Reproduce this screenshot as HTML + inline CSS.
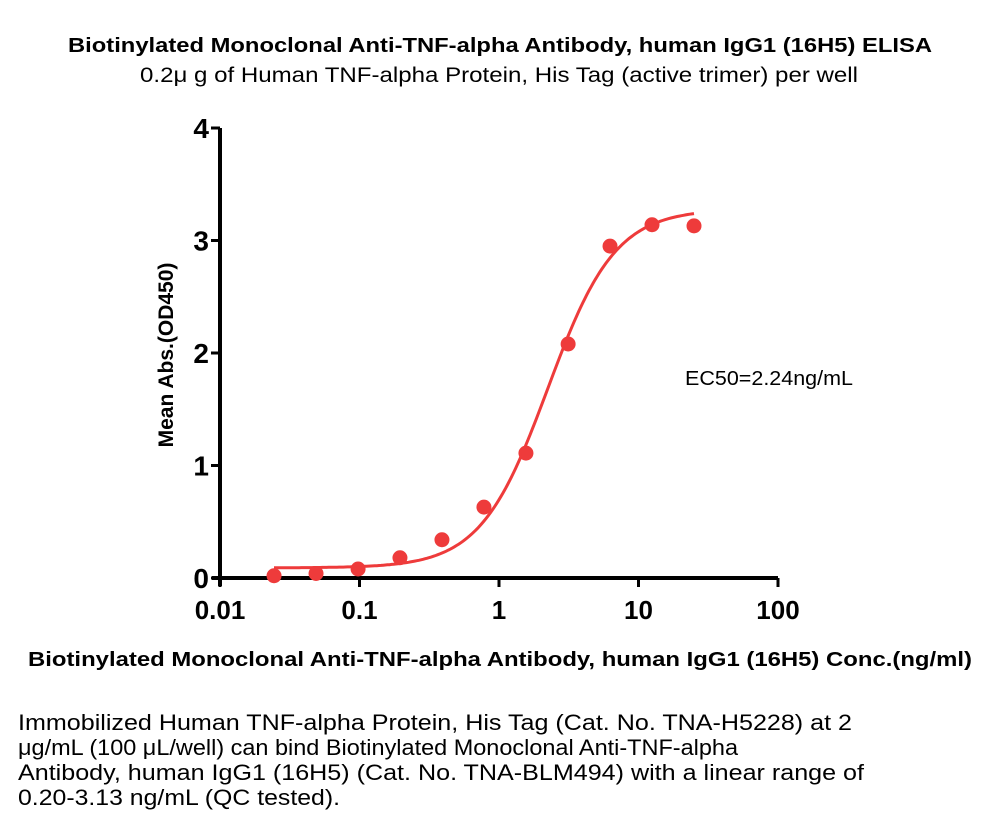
<!DOCTYPE html>
<html><head><meta charset="utf-8"><style>
body{margin:0;background:#fff;width:1000px;height:832px;overflow:hidden;font-family:"Liberation Sans",sans-serif}
svg{position:absolute;left:0;top:0}
</style></head><body>
<svg width="1000" height="832" font-family="Liberation Sans, sans-serif">
<text x="68" y="52" textLength="864" lengthAdjust="spacingAndGlyphs" font-size="20" font-weight="bold">Biotinylated Monoclonal Anti-TNF-alpha Antibody, human IgG1 (16H5)  ELISA</text>
<text x="140" y="82" textLength="718" lengthAdjust="spacingAndGlyphs" font-size="21">0.2μ g of Human TNF-alpha Protein, His Tag (active trimer) per well</text>
<g id="axes"></g>
<g id="marks"></g>
<text x="0" y="0" transform="translate(173,355) rotate(-90)" text-anchor="middle" font-size="21" font-weight="bold">Mean Abs.(OD450)</text>
<text x="28" y="666" textLength="944" lengthAdjust="spacingAndGlyphs" font-size="20" font-weight="bold">Biotinylated Monoclonal Anti-TNF-alpha Antibody, human IgG1 (16H5)  Conc.(ng/ml)</text>
<text x="685" y="385" textLength="168" lengthAdjust="spacingAndGlyphs" font-size="20">EC50=2.24ng/mL</text>
<g font-size="22">
<text x="18" y="730" textLength="834" lengthAdjust="spacingAndGlyphs">Immobilized Human TNF-alpha Protein, His Tag (Cat. No. TNA-H5228) at 2</text>
<text x="18" y="755" textLength="720" lengthAdjust="spacingAndGlyphs">μg/mL (100 μL/well) can bind Biotinylated Monoclonal Anti-TNF-alpha</text>
<text x="18" y="780" textLength="846" lengthAdjust="spacingAndGlyphs">Antibody, human IgG1 (16H5) (Cat. No. TNA-BLM494) with a linear range of</text>
<text x="18" y="805" textLength="322" lengthAdjust="spacingAndGlyphs">0.20-3.13 ng/mL (QC tested).</text>
</g>
</svg>
<script>
const concentrations=[0.0244,0.0488,0.0977,0.195,0.39,0.78,1.56,3.13,6.25,12.5,25];
const absorbances=[0.02,0.04,0.08,0.18,0.34,0.63,1.11,2.08,2.95,3.14,3.13];
const xTicks=[0.01,0.1,1,10,100];
const xTickLabels=["0.01","0.1","1","10","100"];
const yTicks=[0,1,2,3,4];
const fitBottom=0.09, fitTop=3.28, fitEC50=2.24, fitHill=1.8;
const NS="http://www.w3.org/2000/svg";
const X0=220,X1=778,Y0=578,Y1=128;
const xs=v=>X0+(Math.log10(v)+2)/4*(X1-X0);
const ys=v=>Y0-v/4*(Y0-Y1);
function mk(t,a,p){const e=document.createElementNS(NS,t);for(const k in a)e.setAttribute(k,a[k]);p.appendChild(e);return e;}
const ax=document.getElementById('axes'),mg=document.getElementById('marks');
const ya=mk('line',{x1:X0,y1:Y1,x2:X0,y2:Y0+8,stroke:'#000','stroke-width':4},ax);


const xa=mk('line',{x1:X0-8,y1:Y0,x2:X1,y2:Y0,stroke:'#000','stroke-width':4},ax);


yTicks.forEach(v=>{
  mk('line',{x1:X0-9,y1:ys(v),x2:X0,y2:ys(v),stroke:'#000','stroke-width':3},ax);
  const t=mk('text',{x:X0-11,y:ys(v)+10,'text-anchor':'end','font-size':28,'font-weight':'bold'},ax);
  t.textContent=v;
  
  
});
xTicks.forEach((v,i)=>{
  mk('line',{x1:xs(v),y1:Y0,x2:xs(v),y2:Y0+9,stroke:'#000','stroke-width':3},ax);
  const t=mk('text',{x:xs(v),y:Y0+41,'text-anchor':'middle','font-size':26,'font-weight':'bold'},ax);
  t.textContent=xTickLabels[i];
  
  
});
let d='';
const lo=Math.log10(concentrations[0]),hi=Math.log10(concentrations[concentrations.length-1]);
for(let i=0;i<=200;i++){const lx=lo+(hi-lo)*i/200,c=Math.pow(10,lx);
  const y=fitBottom+(fitTop-fitBottom)/(1+Math.pow(fitEC50/c,fitHill));
  d+=(i?'L':'M')+xs(c).toFixed(1)+','+ys(y).toFixed(1);}
const cv=mk('path',{d:d,fill:'none',stroke:'#ee3b3b','stroke-width':3},mg);


concentrations.forEach((c,i)=>{
  const p=mk('circle',{cx:xs(c),cy:ys(absorbances[i]),r:7.5,fill:'#ee3b3b'},mg);
  
  
});
</script>
</body></html>
